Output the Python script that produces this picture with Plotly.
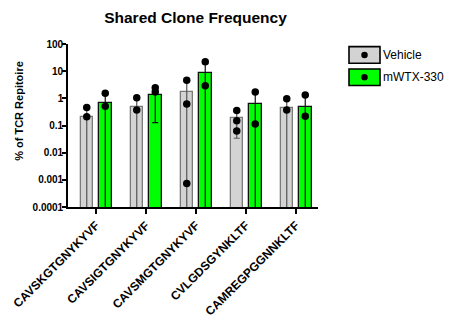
import numpy as np
import plotly.graph_objects as go

categories = ["CAVSKGTGNYKYVF", "CAVSIGTGNYKYVF", "CAVSMGTGNYKYVF", "CVLGDSGYNKLTF", "CAMREGPGGNNKLTF"]
series_names = ["Vehicle", "mWTX-330"]

vehicle_mean = [0.21, 0.48, 1.76, 0.19, 0.43]
mwtx_mean = [0.65, 1.36, 8.3, 0.60, 0.49]

vehicle_err_hi = [0.42, 1.0, 4.2, 0.37, 0.90]
mwtx_err_hi = [1.5, 2.7, 19.0, 1.6, 1.3]
# 0 means the lower error limit falls off the log scale
vehicle_err_lo = [0, 0, 0, 0.034, 0]
mwtx_err_lo = [0, 0.128, 0, 0, 0]

vehicle_points = [[0.46, 0.21], [1.06, 0.37], [4.6, 0.62, 0.00073], [0.36, 0.15, 0.063], [0.97, 0.37]]
mwtx_points = [[1.55, 0.51], [1.7, 2.46], [22.4, 2.93], [1.7, 0.114], [1.32, 0.22]]

ytick_vals = [0.0001, 0.001, 0.01, 0.1, 1, 10, 100]
ytick_text = ["0.0001", "0.001", "0.01", "0.1", "1", "10", "100"]

FONT = "Liberation Sans, Arial, sans-serif"
AX_MIN = 1e-4
idx = np.arange(len(categories))
OFF = 0.185
BW = 0.25
W, H = 444, 312  # page body has an 8px margin

fig = go.Figure()

def add_series(means, hi, lo, points, offset, fill, border, errcol):
    xs = idx + offset
    means = np.array(means, float)
    hi = np.array(hi, float)
    lo = np.array(lo, float)
    lo_eff = np.where(lo > 0, lo, AX_MIN / 100)
    fig.add_trace(go.Bar(
        x=xs, y=means, width=BW,
        marker=dict(color=fill, line=dict(color=border, width=1.3)),
        error_y=dict(type="data", symmetric=False, array=hi - means,
                     arrayminus=means - lo_eff, color=errcol, thickness=1.2, width=3),
        showlegend=False, hoverinfo="skip",
    ))
    px, py = [], []
    for x, pts in zip(xs, points):
        for v in pts:
            px.append(x)
            py.append(v)
    fig.add_trace(go.Scatter(
        x=px, y=py, mode="markers",
        marker=dict(color="black", size=7.5),
        showlegend=False, hoverinfo="skip",
    ))

add_series(vehicle_mean, vehicle_err_hi, vehicle_err_lo, vehicle_points, -OFF, "#d3d3d3", "#7a7a7a", "#555555")
add_series(mwtx_mean, mwtx_err_hi, mwtx_err_lo, mwtx_points, OFF, "#00ff00", "#111111", "#111111")

# custom legend
shapes = []
annotations = []
legend_rows = [(series_names[0], "#d3d3d3", 0.933), (series_names[1], "#00ff00", 0.796)]
for name, col, yc in legend_rows:
    shapes.append(dict(type="rect", xref="paper", yref="paper",
                       x0=1.124, x1=1.248, y0=yc - 0.051, y1=yc + 0.051,
                       fillcolor=col, line=dict(color="black", width=1.6)))
    shapes.append(dict(type="circle", xref="paper", yref="paper",
                       x0=1.186 - 0.013, x1=1.186 + 0.013, y0=yc - 0.02, y1=yc + 0.02,
                       fillcolor="black", line=dict(color="black", width=0)))
    annotations.append(dict(text=name, xref="paper", yref="paper", x=1.250, y=yc,
                            xanchor="left", yanchor="middle", showarrow=False,
                            font=dict(family=FONT, size=12, color="black")))

annotations.append(dict(text="<b>% of TCR Repitoire</b>", xref="paper", yref="paper",
                        x=-0.196, y=0.59, textangle=-90, showarrow=False,
                        xanchor="center", yanchor="middle",
                        font=dict(family=FONT, size=11, color="black")))

fig.update_layout(
    width=W, height=H,
    margin=dict(l=60, r=134, t=36, b=113, autoexpand=False),
    paper_bgcolor="white", plot_bgcolor="white",
    title=dict(text="<b>Shared Clone Frequency</b>", x=187.5 / W, xanchor="center",
               y=1 - 9.5 / H, yanchor="middle",
               font=dict(family=FONT, size=15.5, color="black")),
    shapes=shapes, annotations=annotations,
    bargap=0, barmode="overlay",
)
fig.update_xaxes(
    range=[-0.56, 4.44], tickvals=list(idx), ticktext=["<b>%s</b>" % c for c in categories],
    tickangle=-45, ticks="outside", ticklen=5, tickwidth=1.5, tickcolor="black",
    showline=True, linecolor="black", linewidth=1.6, showgrid=False, zeroline=False,
    tickfont=dict(family=FONT, size=12, color="black"),
)
fig.update_yaxes(
    type="log", range=[-4, 2], tickvals=ytick_vals, ticktext=["<b>%s</b>" % t for t in ytick_text],
    ticks="outside", ticklen=4, tickwidth=1.5, tickcolor="black",
    showline=True, linecolor="black", linewidth=1.6, showgrid=False, zeroline=False,
    tickfont=dict(family=FONT, size=10, color="black"), ticklabelstandoff=-3,
)

fig.write_html("out.html")
